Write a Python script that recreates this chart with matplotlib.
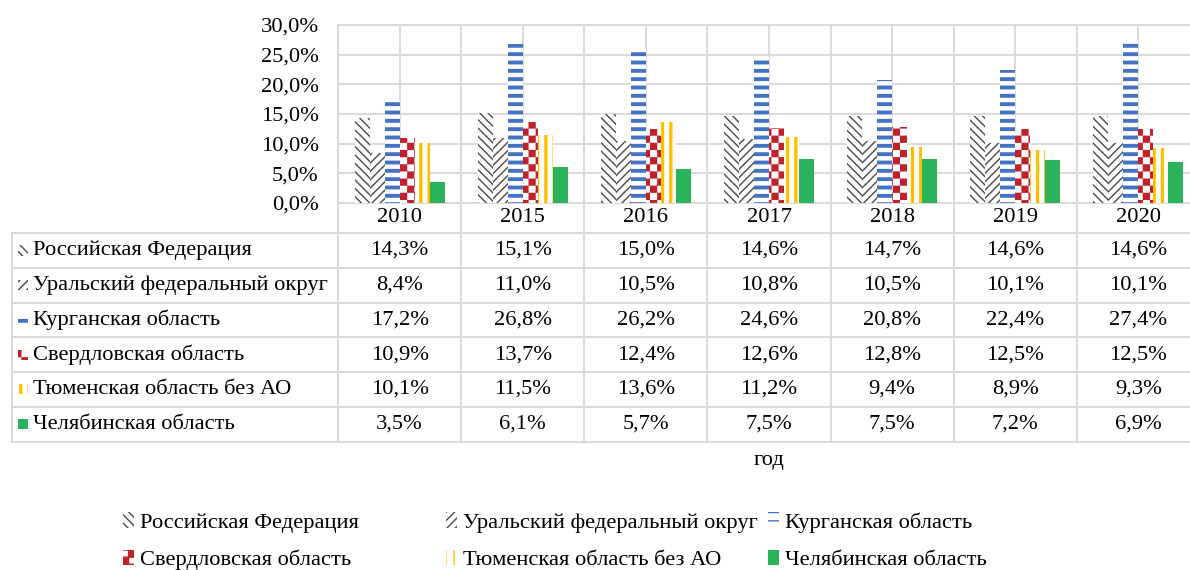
import warnings
import numpy as np
import matplotlib
matplotlib.use('Agg')
import matplotlib.pyplot as plt
import matplotlib.hatch as mhatch
import matplotlib.transforms as mtransforms
from matplotlib.path import Path
from matplotlib.patches import Rectangle
from matplotlib.lines import Line2D

warnings.filterwarnings('ignore')

years = ['2010', '2015', '2016', '2017', '2018', '2019', '2020']
names = ['Российская Федерация', 'Уральский федеральный округ', 'Курганская область',
         'Свердловская область', 'Тюменская область без АО', 'Челябинская область']
rf = [14.3, 15.1, 15.0, 14.6, 14.7, 14.6, 14.6]
ural = [8.4, 11.0, 10.5, 10.8, 10.5, 10.1, 10.1]
kurgan = [17.2, 26.8, 26.2, 24.6, 20.8, 22.4, 27.4]
sverd = [10.9, 13.7, 12.4, 12.6, 12.8, 12.5, 12.5]
tyumen = [10.1, 11.5, 13.6, 11.2, 9.4, 8.9, 9.3]
chel = [3.5, 6.1, 5.7, 7.5, 7.5, 7.2, 6.9]
series = [rf, ural, kurgan, sverd, tyumen, chel]


# checkerboard hatch ('#'), matplotlib has none built in
class CheckerHatch(mhatch.HatchPatternBase):
    def __init__(self, hatch, density):
        self.n = 14 if '#' in hatch else 0
        self.num_vertices = (self.n * self.n // 2) * 5

    def set_vertices_and_codes(self, vertices, codes):
        s = 1.0 / self.n
        k = 0
        for i in range(self.n):
            for j in range(self.n):
                if (i + j) % 2:
                    continue
                x0, y0 = i * s, j * s
                vertices[k:k + 5] = [(x0, y0), (x0 + s, y0), (x0 + s, y0 + s), (x0, y0 + s), (x0, y0)]
                codes[k:k + 5] = [Path.MOVETO, Path.LINETO, Path.LINETO, Path.LINETO, Path.CLOSEPOLY]
                k += 5


mhatch._hatch_types.append(CheckerHatch)

# (face, pattern colour, hatch, hatch linewidth)
styles = [('white', '#4a4a4a', '\\\\\\\\', 1.0),
          ('white', '#4a4a4a', '////', 1.0),
          ('white', '#4472C4', '--', 2.8),
          ('white', '#C0212B', '#', 0.1),
          ('white', '#FFC000', '||', 2.4),
          ('#2BB35C', '#2BB35C', '', 0.5)]

plt.rcParams['font.family'] = ['Liberation Serif', 'DejaVu Serif']
FS = 16.2
GRID = '#D9D9D9'


def set_hlw(p, lw):
    if hasattr(p, 'set_hatch_linewidth'):
        p.set_hatch_linewidth(lw)
    else:
        p._hatch_linewidth = lw


W, H = 1190, 570
fx = lambda px: px / W
fy = lambda py: 1 - py / H

fig = plt.figure(figsize=(W / 100, H / 100), dpi=100)
ax = fig.add_axes([fx(338), fy(203), (1200 - 338) / W, (203 - 25) / H])

x = np.arange(len(years))
bw = 0.122
bars = []
for k, (vals, st) in enumerate(zip(series, styles)):
    b = ax.bar(x + (k - 2.5) * bw, vals, bw, color=st[0], edgecolor=st[1],
               hatch=st[2] or None, linewidth=0, label=names[k], zorder=3)
    for p in b:
        set_hlw(p, st[3])
    bars.append(b)

ax.set_xlim(-0.5, 6.5)
ax.set_ylim(0, 30)
ax.set_yticks(np.arange(0, 31, 5))
ax.set_yticklabels([f'{v:.1f}%'.replace('.', ',') for v in np.arange(0, 31, 5)], fontsize=FS)
ax.set_xticks(np.arange(-0.5, 6.6, 0.5))
ax.set_xticklabels([])
ax.tick_params(length=0, pad=14)
ax.grid(True, color=GRID, linewidth=1.4, zorder=0)
for ln in ax.get_xgridlines() + ax.get_ygridlines():
    ln.set_clip_on(False)
for s in ax.spines.values():
    s.set_visible(False)

# data table under the plot
trans = mtransforms.blended_transform_factory(ax.transData, ax.transAxes)
ya = lambda py: (203 - py) / 178
row_edges = [233, 268, 302.7, 337.4, 372.1, 406.8, 441.5]

for py in row_edges:
    fig.add_artist(Line2D([fx(12), fx(1200)], [fy(py), fy(py)], color=GRID, lw=1.4))
fig.add_artist(Line2D([fx(12), fx(12)], [fy(233), fy(441.5)], color=GRID, lw=1.4))
for xb in np.arange(-0.5, 6.6, 1.0):
    ax.add_line(Line2D([xb, xb], [ya(203), ya(441.5)], color=GRID, lw=1.4,
                       transform=trans, clip_on=False))

for i, yr in enumerate(years):
    ax.text(i, ya(218), yr, transform=trans, ha='center', va='center', fontsize=FS)

for r, (vals, st, nm) in enumerate(zip(series, styles, names)):
    yc = (row_edges[r] + row_edges[r + 1]) / 2
    for i, v in enumerate(vals):
        ax.text(i, ya(yc), f'{v:.1f}%'.replace('.', ','), transform=trans,
                ha='center', va='center', fontsize=FS)
    fig.text(fx(33), fy(yc), nm, ha='left', va='center', fontsize=FS)
    key = Rectangle((fx(18), fy(yc + 5)), 10 / W, 10 / H, transform=fig.transFigure,
                    facecolor=st[0], edgecolor=st[1], hatch=st[2] or None, linewidth=0)
    set_hlw(key, st[3])
    fig.add_artist(key)

fig.text(fx(769), fy(460), 'год', ha='center', va='center', fontsize=FS)

# legend, three columns of two
for col, (a, b, xl) in enumerate([(0, 3, 123), (1, 4, 446), (2, 5, 768)]):
    fig.legend([bars[a], bars[b]], [names[a], names[b]], loc='upper left',
               bbox_to_anchor=(fx(xl), fy(512)), frameon=False, fontsize=FS,
               borderpad=0, borderaxespad=0, handlelength=0.5, handleheight=0.7,
               handletextpad=0.25, labelspacing=0.75)

fig.savefig('out.png', dpi=100)
